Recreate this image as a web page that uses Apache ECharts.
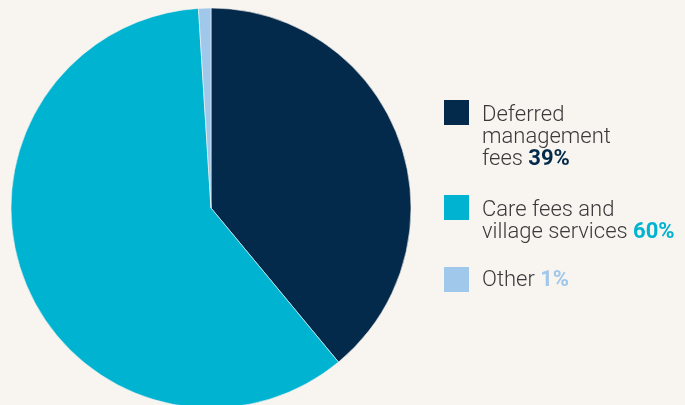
<!DOCTYPE html>
<html>
<head>
<meta charset="utf-8">
<style>
  html, body { margin: 0; padding: 0; background: #f8f5f1; }
  #chart { width: 685px; height: 405px; }
</style>
<script src="https://cdn.jsdelivr.net/npm/echarts@6/dist/echarts.min.js"></script>
</head>
<body>
<div id="chart"></div>
<script>
// Revenue mix by source
const categories = ['Deferred management fees', 'Care fees and village services', 'Other'];
const shares = [39, 60, 1];
// Legend text split into lines; the last line carries the percentage
const legendLines = [
  ['Deferred', 'management', 'fees'],
  ['Care fees and', 'village services'],
  ['Other']
];
const colors = ['#032a4b', '#00b3d0', '#a0c8ea'];

const chart = echarts.init(document.getElementById('chart'), null, { renderer: 'canvas' });

const FONT = "Roboto, 'Open Sans', sans-serif";
const swatchTops = [100, 195, 267];
const textTops = [104, 199, 269];
const graphics = [];
legendLines.forEach((lines, i) => {
  graphics.push({
    type: 'rect',
    left: 444, top: swatchTops[i],
    shape: { width: 25, height: 25 },
    style: { fill: colors[i] }
  });
  const rich = {
    t: { fontFamily: FONT, fontSize: 22, fontWeight: 300, fill: '#3a3a3a', lineHeight: 22 },
    v: { fontFamily: FONT, fontSize: 22, fontWeight: 700, fill: colors[i], lineHeight: 22 }
  };
  const text = lines.map((ln, j) =>
    j === lines.length - 1
      ? '{t|' + ln + ' }{v|' + shares[i] + '%}'
      : '{t|' + ln + '}'
  ).join('\n');
  graphics.push({
    type: 'text',
    left: 482, top: textTops[i],
    style: { text: text, rich: rich }
  });
});

chart.setOption({
  backgroundColor: '#f8f5f1',
  animation: false,
  color: colors,
  graphic: graphics,
  series: [{
    type: 'pie',
    center: [211, 208],
    radius: 200,
    startAngle: 90,
    clockwise: true,
    label: { show: false },
    labelLine: { show: false },
    emphasis: { disabled: true },
    itemStyle: { borderColor: '#f8f5f1', borderWidth: 0.6 },
    data: categories.map((c, i) => ({ name: c, value: shares[i] }))
  }]
});
</script>
</body>
</html>
